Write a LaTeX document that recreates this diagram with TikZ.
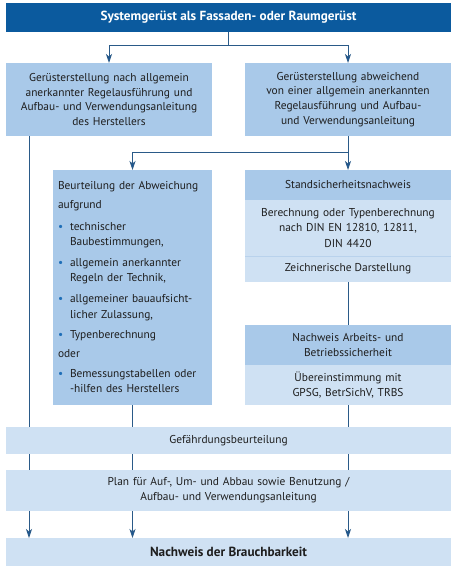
\documentclass[tikz,border=0pt]{standalone}
\usepackage{fontspec}
\setmainfont{PT Sans}
\usetikzlibrary{arrows.meta,backgrounds}
\definecolor{darkb}{HTML}{0B5A9E}
\definecolor{midb}{HTML}{A9C9E9}
\definecolor{lightb}{HTML}{CFE1F3}
\definecolor{sepc}{HTML}{B9D2EC}
\definecolor{linec}{HTML}{2A5A88}
\definecolor{tipc}{HTML}{15559A}
\definecolor{txt}{HTML}{1E1E1E}
\definecolor{bulc}{HTML}{1F6FB8}
\newcommand{\bul}{\makebox[12pt][l]{\textcolor{bulc}{\textbullet}}}
\newcommand{\ind}{\hspace*{12pt}}
\tikzset{
  box/.style={inner sep=0pt, outer sep=0pt, anchor=north west, text=txt, align=center,
    font=\fontsize{11.4}{14.8}\selectfont},
  midbox/.style={box, fill=midb},
  lightbox/.style={box, fill=lightb},
  conn/.style={draw=linec, line width=0.9pt},
  arr/.style={conn, -{Stealth[length=9pt,width=6pt,inset=2.5pt,fill=tipc]}},
}
\begin{document}
\begin{tikzpicture}[x=1pt,y=-1pt]
\useasboundingbox (0,0) rectangle (453,569);
% top
\node[box, fill=darkb, text=white, minimum width=445pt, minimum height=29pt,
  font=\bfseries\fontsize{13.2}{15}\selectfont] (top) at (6,3) {Systemgerüst als Fassaden- oder Raumgerüst};
% second row
\node[midbox, minimum width=206pt, minimum height=73pt, text width=204pt] (l1) at (6,63)
  {Gerüsterstellung nach allgemein\\anerkannter Regelausführung und\\Aufbau- und Verwendungsanleitung\\des Herstellers};
\node[midbox, minimum width=206pt, minimum height=73pt, text width=204pt] (r1) at (245,63)
  {Gerüsterstellung abweichend\\von einer allgemein anerkannten\\Regelausführung und Aufbau-\\und Verwendungsanleitung};
% Beurteilung
\node[midbox, minimum width=159pt, minimum height=235pt] (be) at (53,170) {};
\node[box, align=left, text width=152pt, font=\fontsize{11.4}{15.2}\selectfont] (betext) at (58,181.5)
  {Beurteilung der Abweichung\\[4pt]
   aufgrund\\[6pt]
   \bul technischer\\
   \ind Baubestimmungen,\\[6pt]
   \bul allgemein anerkannter\\
   \ind Regeln der Technik,\\[6pt]
   \bul allgemeiner bauaufsicht-\\
   \ind licher Zulassung,\\[5pt]
   \bul Typenberechnung\\[4pt]
   oder\\[5pt]
   \bul Bemessungstabellen oder\\
   \ind -hilfen des Herstellers};
% Standsicherheit
\node[midbox, minimum width=206pt, minimum height=30pt] (sh) at (245,170) {Standsicherheitsnachweis};
\node[lightbox, minimum width=206pt, minimum height=56pt, text width=204pt,
  font=\fontsize{11.4}{15.3}\selectfont] (sb) at (245,200)
  {Berechnung oder Typenberechnung\\nach DIN EN 12810, 12811,\\DIN 4420};
\node[lightbox, minimum width=206pt, minimum height=25pt] (sz) at (245,256.5) {Zeichnerische Darstellung};
\draw[sepc, line width=0.6pt] (sz.north west) -- (sz.north east);
% Nachweis Arbeits
\node[midbox, minimum width=206pt, minimum height=40pt, text width=204pt] (nh) at (245,325)
  {Nachweis Arbeits- und\\Betriebssicherheit};
\node[lightbox, minimum width=206pt, minimum height=40pt, text width=204pt] (nb) at (245,365)
  {Übereinstimmung mit\\GPSG, BetrSichV, TRBS};
% bottom rows
\node[lightbox, minimum width=445pt, minimum height=27pt] (gef) at (6,427) {Gefährdungsbeurteilung};
\node[lightbox, minimum width=445pt, minimum height=41pt, text width=440pt] (plan) at (6,470)
  {Plan für Auf-, Um- und Abbau sowie Benutzung /\\Aufbau- und Verwendungsanleitung};
\node[lightbox, minimum width=445pt, minimum height=28pt,
  font=\bfseries\fontsize{13.2}{15}\selectfont] (fin) at (6,538) {Nachweis der Brauchbarkeit};
% connectors
\begin{scope}[on background layer]
\fill[white] (0,0) rectangle (453,569);
\draw[conn] (top.south) -- ++(0,13) coordinate (tj);
\draw[arr] (tj) -| (l1.north);
\draw[arr] (tj) -| (r1.north);
\draw[arr] ([xshift=-80pt]l1.south) -- ([xshift=-80pt]l1.south |- fin.north);
\draw[conn] (r1.south) -- ++(0,16) coordinate (rj);
\draw[arr] (rj) -| (be.north);
\draw[arr] (rj) -- (sh.north);
\draw[conn] (sz.south) -- (nh.north);
\draw[arr] (be.south) -- (be.south |- fin.north);
\draw[arr] (nb.south) -- (nb.south |- fin.north);
\end{scope}
\end{tikzpicture}
\end{document}
